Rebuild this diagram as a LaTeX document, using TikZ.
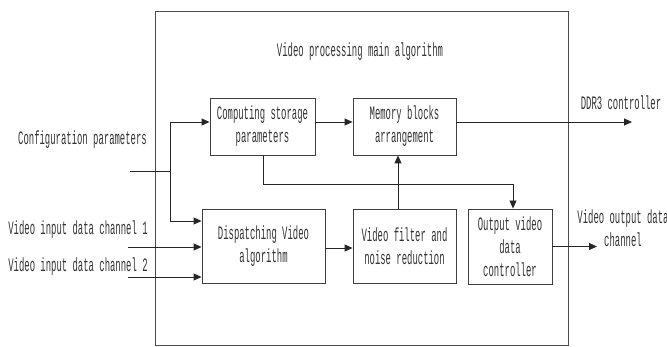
\documentclass[tikz,border=0pt]{standalone}
\usepackage{fontspec}
\setmainfont{Liberation Mono}[FakeStretch=0.47]
\usetikzlibrary{arrows.meta}
\begin{document}
\begin{tikzpicture}[x=1pt,y=-1pt,
  font=\fontsize{19}{23}\selectfont,
  txt/.style={text=black!80, inner sep=0pt},
  blk/.style={draw=black!75, line width=0.9pt, align=center, inner sep=0pt, text=black!80},
  arr/.style={draw=black!85, line width=0.9pt, -{Triangle[length=8pt,width=7pt]}},
  ln/.style={draw=black!85, line width=0.9pt}]
\useasboundingbox (0,0) rectangle (667,347);
% main box
\node[draw=black!70, line width=0.8pt, minimum width=413pt, minimum height=334pt, inner sep=0pt] (main) at (361.5,178) {};
\node[txt] (title) at (360,52) {Video processing main algorithm};
% blocks
\node[blk, minimum width=105pt, minimum height=57pt] (comp) at (262.5,126.5) {Computing storage\\parameters};
\node[blk, minimum width=103pt, minimum height=57pt] (mem) at (404.5,126.5) {Memory blocks\\arrangement};
\node[blk, minimum width=123pt, minimum height=74pt] (disp) at (263.5,246) {Dispatching Video\\algorithm};
\node[blk, minimum width=103pt, minimum height=74pt] (filt) at (404.5,246) {Video filter and\\noise reduction};
\node[blk, minimum width=84pt, minimum height=75pt] (outc) at (510,246.5) {Output video\\data\\controller};
% outside labels
\node[txt] (cfg) at (82.5,140) {Configuration parameters};
\node[txt] (in1) at (78,230) {Video input data channel 1};
\node[txt] (in2) at (78,267) {Video input data channel 2};
\node[txt] (ddr) at (621,103) {DDR3 controller};
\node[txt, align=center] (vout) at (623,228.5) {Video output data\\channel};
% coordinates
\coordinate (cfgs) at (130,171);
\coordinate (cfgj) at (170,171);
\coordinate (y1) at (0,122);
\coordinate (yc) at (0,221);
\coordinate (y2) at (0,247);
\coordinate (y3) at (0,277);
\coordinate (yd) at (0,248);
\coordinate (in1s) at (128,247);
\coordinate (in2s) at (128,277);
\coordinate (ddre) at (632,122);
\coordinate (voute) at (597,246.5);
\coordinate (xf) at (398,0);
\coordinate (xo) at (513,0);
\coordinate (cb) at (263,184);
% connectors
\draw[ln] (cfgs) -- (cfgj);
\draw[arr] (cfgj) |- (comp.west |- y1);
\draw[arr] (cfgj) |- (disp.west |- yc);
\draw[arr] (in1s) -- (disp.west |- y2);
\draw[arr] (in2s) -- (disp.west |- y3);
\draw[arr] (comp.east |- y1) -- (mem.west |- y1);
\draw[arr] (mem.east |- y1) -- (ddre);
\draw[arr] (disp.east |- yd) -- (filt.west |- yd);
\draw[arr] (filt.north -| xf) -- (mem.south -| xf);
\draw[arr] (comp.south -| cb) -- (cb) -| (outc.north -| xo);
\draw[arr] (outc.east) -- (voute);
\end{tikzpicture}
\end{document}
